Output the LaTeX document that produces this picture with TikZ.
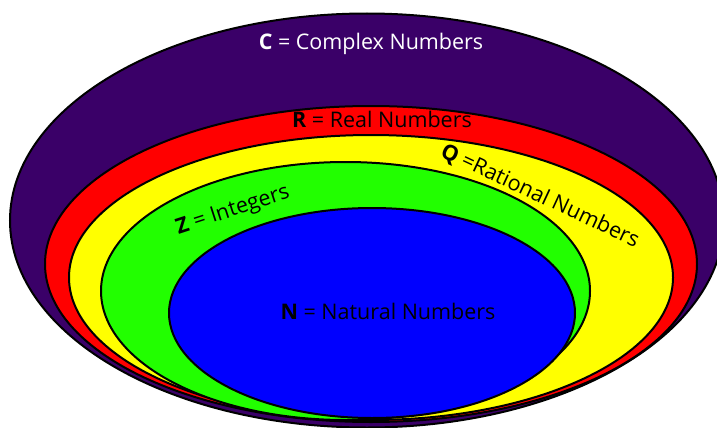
\documentclass[tikz,border=0pt]{standalone}
\usepackage{fontspec}
\setmainfont{Open Sans}
\definecolor{cpurple}{RGB}{58,0,104}
\definecolor{cred}{RGB}{255,0,0}
\definecolor{cyellow}{RGB}{255,255,0}
\definecolor{cgreen}{RGB}{34,255,0}
\definecolor{cblue}{RGB}{0,0,255}
\begin{document}
\begin{tikzpicture}[x=1pt,y=-1pt,
  setline/.style={draw=black,line width=2pt},
  lbl/.style={font=\fontsize{21.5}{24}\selectfont, inner sep=0pt, text=black}]
\useasboundingbox (0,0) rectangle (717,428);
\fill[white] (0,0) rectangle (717,428);
\clip (0,0) rectangle (717,428);
\draw[setline, fill=cpurple] (367,220.5) ellipse [x radius=357, y radius=207];
\draw[setline, fill=cred] (371,264) ellipse [x radius=326, y radius=158];
\draw[setline, fill=cyellow] (371,277.5) ellipse [x radius=302, y radius=142.5];
\draw[setline, fill=cgreen] (345.5,291) ellipse [x radius=244.5, y radius=129];
\draw[setline, fill=cblue] (372,313) ellipse [x radius=203, y radius=105];
\node[lbl, text=white] (clabel) at (371,44) {\textbf{C} = Complex Numbers};
\node[lbl] (rlabel) at (382,119) {\textbf{R} = Real Numbers};
\node[lbl, rotate=-25] (qlabel) at (540,196) {\textbf{Q} =Rational Numbers};
\node[lbl, rotate=18] (zlabel) at (233,211) {\textbf{Z} = Integers};
\node[lbl] (nlabel) at (388,311) {\textbf{N} = Natural Numbers};
\end{tikzpicture}
\end{document}
